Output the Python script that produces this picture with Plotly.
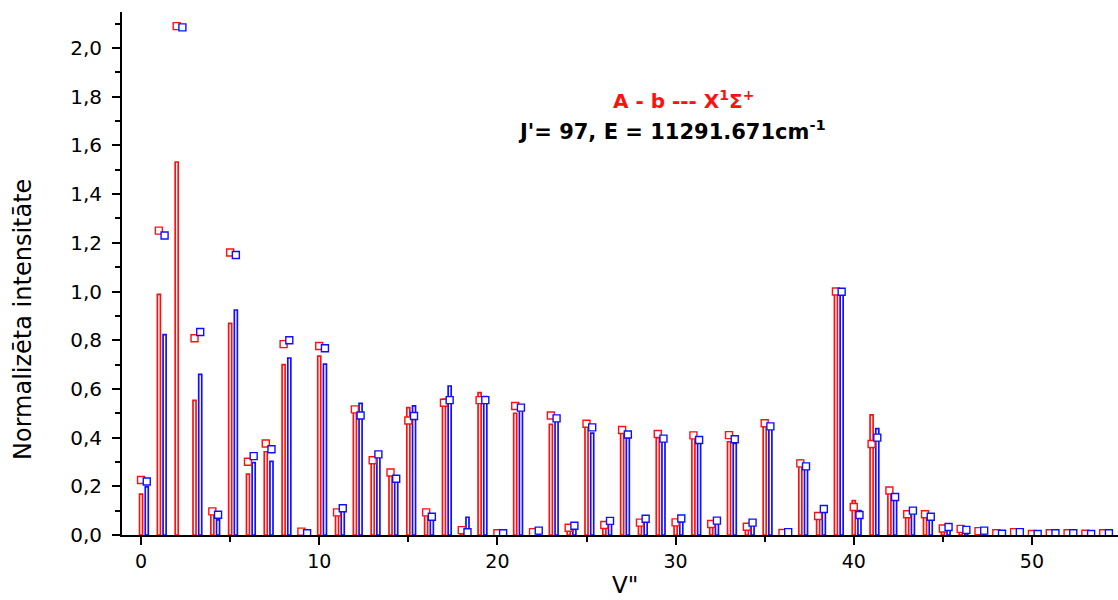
import plotly.graph_objects as go

# Vibrational quantum number of the lower state
v_lower = list(range(55))

# Bar heights (red: first calculation, blue: second calculation)
red_bars = [0.168, 0.988, 1.532, 0.553, 0.086, 0.869, 0.250, 0.342, 0.700, 0.005,
            0.735, 0.088, 0.512, 0.308, 0.248, 0.523, 0.089, 0.557, 0.014, 0.585,
            0.005, 0.500, 0.014, 0.454, 0.027, 0.445, 0.037, 0.420, 0.050, 0.400,
            0.041, 0.400, 0.037, 0.383, 0.027, 0.454, 0.005, 0.308, 0.089, 0.999,
            0.141, 0.493, 0.194, 0.096, 0.092, 0.023, 0.031, 0.012, 0.005, 0.010,
            0.003, 0.005, 0.005, 0.004, 0.005]
blue_bars = [0.198, 0.823, None, 0.660, 0.062, 0.924, 0.297, 0.302, 0.727, 0.004,
             0.702, 0.103, 0.541, 0.322, 0.226, 0.530, 0.062, 0.612, 0.073, 0.568,
             0.005, 0.513, 0.012, 0.486, 0.023, 0.418, 0.052, 0.400, 0.062, 0.390,
             0.055, 0.380, 0.048, 0.376, 0.041, 0.438, 0.008, 0.280, 0.096, 1.000,
             0.100, 0.437, 0.168, 0.111, 0.082, 0.030, 0.015, 0.014, 0.004, 0.010,
             0.003, 0.005, 0.005, 0.003, 0.005]

# Square markers (red and blue sets)
red_points = [0.226, 1.250, 2.090, 0.808, 0.097, 1.160, 0.301, 0.376, 0.784, 0.014,
              0.776, 0.093, 0.516, 0.307, 0.257, 0.470, 0.093, 0.543, 0.020, 0.554,
              0.007, 0.530, 0.012, 0.491, 0.030, 0.457, 0.041, 0.431, 0.051, 0.415,
              0.052, 0.409, 0.045, 0.410, 0.034, 0.459, 0.008, 0.294, 0.078, 1.000,
              0.115, 0.374, 0.183, 0.085, 0.085, 0.027, 0.025, 0.016, 0.007, 0.012,
              0.004, 0.007, 0.007, 0.005, 0.007]
blue_points = [0.220, 1.230, 2.085, 0.834, 0.083, 1.150, 0.324, 0.352, 0.800, 0.007,
               0.767, 0.110, 0.491, 0.331, 0.231, 0.489, 0.075, 0.554, 0.011, 0.554,
               0.007, 0.523, 0.018, 0.479, 0.038, 0.442, 0.058, 0.413, 0.067, 0.396,
               0.068, 0.390, 0.059, 0.393, 0.051, 0.446, 0.012, 0.282, 0.107, 0.999,
               0.082, 0.400, 0.156, 0.100, 0.075, 0.033, 0.021, 0.018, 0.005, 0.012,
               0.004, 0.007, 0.007, 0.004, 0.007]

x_ticks = [0, 10, 20, 30, 40, 50]
y_ticks = [0.0, 0.2, 0.4, 0.6, 0.8, 1.0, 1.2, 1.4, 1.6, 1.8, 2.0]

RED = "#ff1010"
BLUE = "#1010ff"
SHIFT = 0.32      # blue series sits just right of the red one
BAR_W = 0.17
FONT = "DejaVu Sans, Arial, sans-serif"

# plot area in pixels
L, T, W_PX, H_PX = 122, 12, 1118, 600
B = 65
plot_w = W_PX - L
plot_h = H_PX - T - B


def px_to_paper(px, py):
    return (px - L) / plot_w, 1 - (py - T) / plot_h


def add_label(px, py, text, size, color="black", angle=0):
    ax, ay = px_to_paper(px, py)
    fig.add_annotation(
        x=ax, y=ay, xref="paper", yref="paper",
        xanchor="center", yanchor="middle", textangle=angle,
        text=text, showarrow=False,
        font=dict(size=size, family=FONT, color=color),
    )


fig = go.Figure()

fig.add_trace(go.Bar(
    x=v_lower, y=red_bars, width=BAR_W, offset=-BAR_W / 2,
    marker=dict(color="white", line=dict(color=RED, width=1.7)),
    showlegend=False,
))
fig.add_trace(go.Bar(
    x=[v + SHIFT for v in v_lower], y=blue_bars, width=BAR_W, offset=-BAR_W / 2,
    marker=dict(color="white", line=dict(color=BLUE, width=1.7)),
    showlegend=False,
))
fig.add_trace(go.Scatter(
    x=v_lower, y=red_points, mode="markers",
    marker=dict(symbol="square", size=7, color="white",
                line=dict(color=RED, width=1.4)),
    showlegend=False,
))
fig.add_trace(go.Scatter(
    x=[v + SHIFT for v in v_lower], y=blue_points, mode="markers",
    marker=dict(symbol="square", size=7, color="white",
                line=dict(color=BLUE, width=1.4)),
    showlegend=False,
))

fig.update_layout(
    width=W_PX, height=H_PX, autosize=False,
    margin=dict(l=L, r=0, t=T, b=B),
    paper_bgcolor="white", plot_bgcolor="white",
    separators=",.",
    barmode="overlay",
    font=dict(family=FONT, color="black", size=19),
    xaxis=dict(
        range=[-1.07, 54.83],
        tickvals=x_ticks,
        ticks="outside", ticklen=8, tickwidth=2, tickcolor="black",
        minor=dict(dtick=5, tick0=5, ticks="outside", ticklen=5, tickwidth=1.5,
                   tickcolor="black"),
        showline=True, linecolor="black", linewidth=2,
        showgrid=False, zeroline=False,
        tickfont=dict(size=19),
    ),
    yaxis=dict(
        range=[0, 2.148],
        tickvals=y_ticks, tickformat=".1f",
        ticks="outside", ticklen=8, tickwidth=2, tickcolor="black",
        minor=dict(dtick=0.1, tick0=0.1, ticks="outside", ticklen=5, tickwidth=1.5,
                   tickcolor="black"),
        showline=True, linecolor="black", linewidth=2,
        showgrid=False, zeroline=False,
        ticklabelstandoff=6,
        tickfont=dict(size=20),
    ),
)

# axis titles
add_label(23, 320, "Normalizēta intensitāte", 24, angle=-90)
add_label(625, 585, 'V"', 23)

# spectroscopic labels
add_label(683, 100, "<b>A - b --- X<sup>1</sup>Σ<sup>+</sup></b>", 20, color=RED)
add_label(672, 130, "<b>J'= 97, E = 11291.671cm<sup>-1</sup></b>", 21)

fig.write_html("out.html")
